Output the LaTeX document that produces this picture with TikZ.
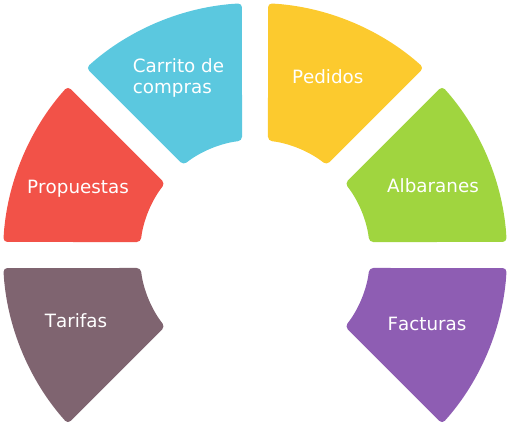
\documentclass[tikz,border=0pt]{standalone}
\usepackage{fontspec}
\setmainfont[Kerning=Off]{DejaVu Sans}
\usepackage{tikz}
\definecolor{tarifas}{HTML}{7F6470}
\definecolor{propuestas}{HTML}{F25248}
\definecolor{carrito}{HTML}{5BC8DF}
\definecolor{pedidos}{HTML}{FCCA2E}
\definecolor{albaranes}{HTML}{A0D53F}
\definecolor{facturas}{HTML}{8E5DB3}
\tikzstyle{sector} = [rounded corners=4pt]
\tikzstyle{sectortext} = [text=white, inner sep=0pt, anchor=base, font=\fontsize{18.3pt}{21pt}\selectfont]

\begin{document}
\begin{tikzpicture}
  \useasboundingbox (-255pt,-171pt) rectangle (256pt,255pt);
  %% sectors
  % left half
  \fill [sector, fill=tarifas] (182.96:252pt) arc [start angle=182.96, end angle=222.04, radius=252pt] -- (218.51:115pt) arc [start angle=218.51, end angle=186.49, radius=115pt] -- cycle;
  \fill [sector, fill=propuestas] (137.96:252pt) arc [start angle=137.96, end angle=177.04, radius=252pt] -- (173.51:115pt) arc [start angle=173.51, end angle=141.49, radius=115pt] -- cycle;
  \fill [sector, fill=carrito] (92.96:252pt) arc [start angle=92.96, end angle=132.04, radius=252pt] -- (128.51:115pt) arc [start angle=128.51, end angle=96.49, radius=115pt] -- cycle;
  % right half
  \fill [sector, fill=pedidos] (47.96:252pt) arc [start angle=47.96, end angle=87.04, radius=252pt] -- (83.51:115pt) arc [start angle=83.51, end angle=51.49, radius=115pt] -- cycle;
  \fill [sector, fill=albaranes] (2.96:252pt) arc [start angle=2.96, end angle=42.04, radius=252pt] -- (38.51:115pt) arc [start angle=38.51, end angle=6.49, radius=115pt] -- cycle;
  \fill [sector, fill=facturas] (-42.04:252pt) arc [start angle=-42.04, end angle=-2.96, radius=252pt] -- (-6.49:115pt) arc [start angle=-6.49, end angle=-38.51, radius=115pt] -- cycle;
  %% labels
  \node [sectortext] (tarifas-text) at (-179pt,-72.3pt) {Tarifas};
  \node [sectortext] (propuestas-text) at (-177pt,61.7pt) {Propuestas};
  \node [sectortext, anchor=base west, align=left] (carrito-text) at (-122.3pt,161pt) {Carrito de\\compras};
  \node [sectortext] (pedidos-text) at (72.7pt,171pt) {Pedidos};
  \node [sectortext] (albaranes-text) at (178pt,63pt) {Albaranes};
  \node [sectortext] (facturas-text) at (172pt,-75.3pt) {Facturas};
\end{tikzpicture}
\end{document}
